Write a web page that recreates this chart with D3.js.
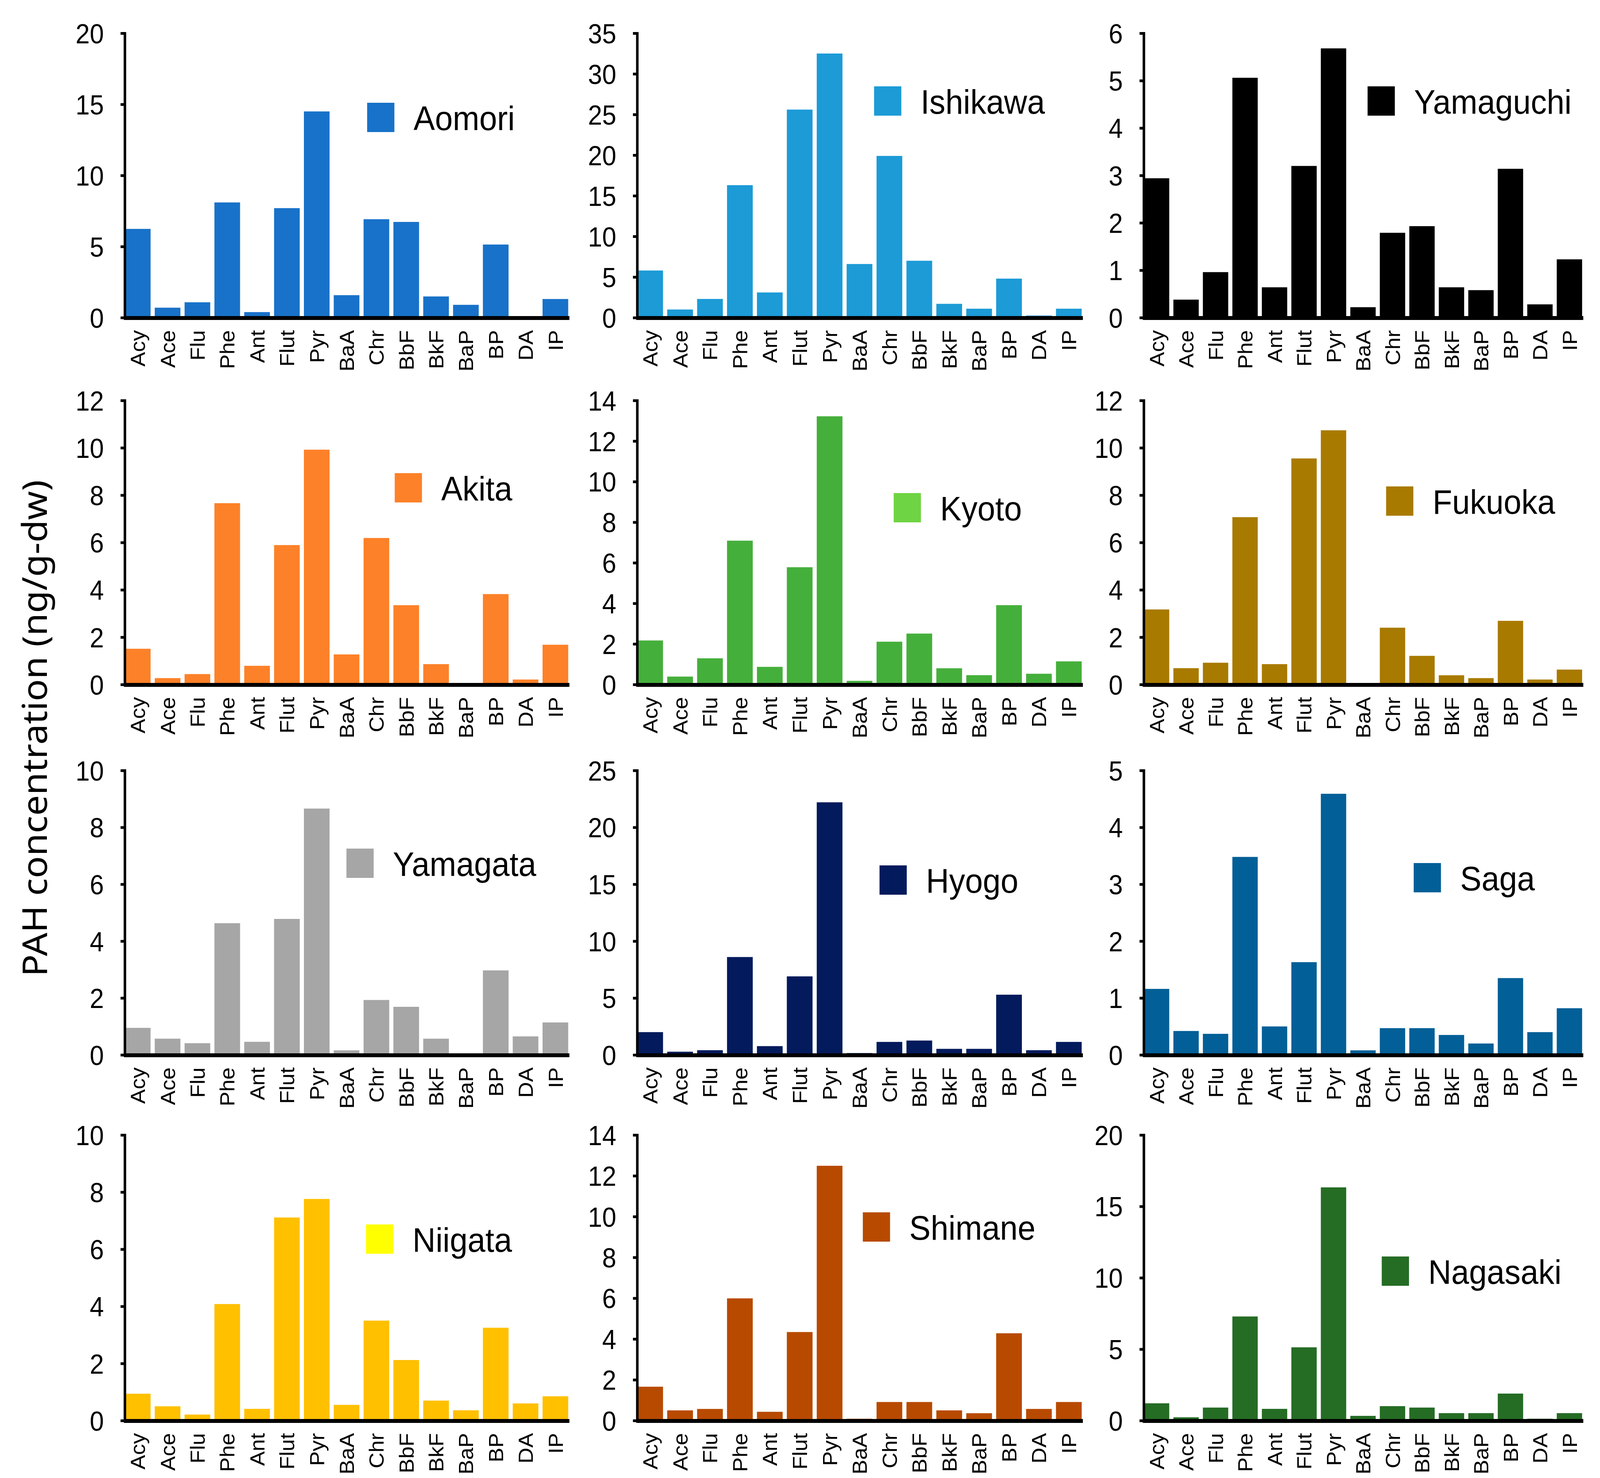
<!DOCTYPE html>
<html>
<head>
<meta charset="UTF-8">
<title>PAH concentration by prefecture</title>
<style>
  html, body { margin: 0; padding: 0; background: #fff; overflow: hidden; }
  svg { display: block; width: 100vw; height: 100vh; }
</style>
</head>
<body>
<svg></svg>
<script src="https://d3js.org/d3.v7.min.js"></script>
<script>
let width = 4406, height = 3783;

// drawing space is 4406 x 3783 and is stretched to fill the window
let svg = d3.select("svg")
    .attr("viewBox", "0 0 " + width + " " + height)
    .attr("preserveAspectRatio", "none")
    .style("background", "#fff");

// PAH compounds on every x axis
const compounds = ["Acy", "Ace", "Flu", "Phe", "Ant", "Flut", "Pyr", "BaA", "Chr", "BbF", "BkF", "BaP", "BP", "DA", "IP"];

const prefectures = ["Aomori", "Ishikawa", "Yamaguchi", "Akita", "Kyoto", "Fukuoka",
                     "Yamagata", "Hyogo", "Saga", "Niigata", "Shimane", "Nagasaki"];

// concentrations (ng/g-dw)
const aomori    = [6.24, 0.70, 1.08, 8.10, 0.39, 7.70, 14.5, 1.58, 6.92, 6.73, 1.49, 0.90, 5.14, 0.11, 1.31];
const ishikawa  = [5.80, 1.00, 2.30, 16.3, 3.10, 25.6, 32.5, 6.60, 19.9, 7.00, 1.70, 1.10, 4.80, 0.26, 1.10];
const yamaguchi = [2.94, 0.38, 0.96, 5.06, 0.64, 3.20, 5.68, 0.22, 1.79, 1.93, 0.64, 0.58, 3.14, 0.28, 1.23];
const akita     = [1.51, 0.27, 0.44, 7.66, 0.79, 5.89, 9.92, 1.27, 6.19, 3.35, 0.86, 0.00, 3.82, 0.21, 1.68];
const kyoto     = [2.17, 0.39, 1.29, 7.09, 0.87, 5.78, 13.22, 0.18, 2.11, 2.51, 0.80, 0.46, 3.91, 0.53, 1.14];
const fukuoka   = [3.17, 0.69, 0.92, 7.07, 0.86, 9.55, 10.74, 0.00, 2.40, 1.21, 0.39, 0.27, 2.69, 0.21, 0.63];
const yamagata  = [0.95, 0.57, 0.41, 4.63, 0.46, 4.78, 8.66, 0.16, 1.93, 1.69, 0.57, 0.00, 2.97, 0.65, 1.14];
const hyogo     = [2.00, 0.28, 0.41, 8.60, 0.77, 6.90, 22.2, 0.16, 1.14, 1.26, 0.53, 0.53, 5.29, 0.41, 1.14];
const saga      = [1.16, 0.42, 0.37, 3.48, 0.50, 1.63, 4.59, 0.08, 0.47, 0.47, 0.35, 0.20, 1.35, 0.40, 0.82];
const niigata   = [0.94, 0.50, 0.21, 4.08, 0.41, 7.11, 7.76, 0.55, 3.50, 2.12, 0.70, 0.36, 3.25, 0.60, 0.85];
const shimane   = [1.66, 0.50, 0.57, 5.99, 0.43, 4.34, 12.49, 0.09, 0.91, 0.91, 0.50, 0.36, 4.28, 0.57, 0.91];
const nagasaki  = [1.21, 0.23, 0.91, 7.29, 0.82, 5.13, 16.33, 0.33, 1.01, 0.91, 0.52, 0.52, 1.89, 0.13, 0.52];

// y axis range and tick step of each panel
const yMax  = [20, 35, 6, 12, 14, 12, 10, 25, 5, 10, 14, 20];
const yStep = [5, 5, 1, 2, 2, 2, 2, 5, 1, 2, 2, 5];

const barColors    = ["#1872C9", "#1C9BD7", "#000000", "#FD8128", "#45AF3B", "#A97A00",
                      "#A6A6A6", "#031A5C", "#035F97", "#FFC000", "#B84A00", "#256C24"];
const swatchColors = ["#1872C9", "#1C9BD7", "#000000", "#FD8128", "#6FD443", "#A97A00",
                      "#A6A6A6", "#031A5C", "#035F97", "#FFFF00", "#B84A00", "#256C24"];

const series = [aomori, ishikawa, yamaguchi, akita, kyoto, fukuoka,
                yamagata, hyogo, saga, niigata, shimane, nagasaki];

// panel layout
const colX   = [344, 1755, 3150];
const colEnd = [1568, 2982, 4360];
const rowTop  = [85, 1025, 1972, 2905];
const rowZero = [813, 1752, 2700, 3636];

// legend offset from the top of each y axis
const legendAt = [[667, 178], [652, 136], [616, 136],
                  [743, 186], [706, 237], [667, 220],
                  [610, 200], [667, 243], [743, 237],
                  [664, 229], [621, 198], [655, 311]];

const font = "'Liberation Sans', Arial, sans-serif";

series.forEach((vals, i) => {
    let col = i % 3, row = Math.floor(i / 3);
    let x0 = colX[col], x1 = colEnd[col];
    let yTop = rowTop[row], yZero = rowZero[row];

    let x = d3.scaleBand()
        .domain(compounds)
        .range([x0, x1])
        .paddingInner(0.14)
        .paddingOuter(0.02)
        .align(0);

    let y = d3.scaleLinear()
        .domain([0, yMax[i]])
        .range([yZero, yTop]);

    let g = svg.append("g").attr("class", "panel");

    // bars
    g.append("g")
        .selectAll("rect")
        .data(vals)
        .enter()
        .append("rect")
        .attr("x", (d, j) => x(compounds[j]))
        .attr("y", d => y(d))
        .attr("width", x.bandwidth())
        .attr("height", d => y(0) - y(d))
        .attr("fill", barColors[i]);

    // y axis
    let yAxis = d3.axisLeft(y)
        .tickValues(d3.range(0, yMax[i] + yStep[i] / 2, yStep[i]))
        .tickFormat(d3.format("d"))
        .tickSize(12)
        .tickSizeOuter(0)
        .tickPadding(46);

    let ya = g.append("g")
        .attr("transform", "translate(" + x0 + ",0)")
        .call(yAxis);
    ya.select(".domain").attr("stroke", "#000").attr("stroke-width", 7)
        .attr("d", "M0," + (yTop - 3) + "V" + yZero);
    ya.selectAll(".tick line").attr("stroke", "#000").attr("stroke-width", 7);
    ya.selectAll(".tick text")
        .style("font-family", font)
        .style("font-size", "70px")
        .attr("fill", "#000")
        .attr("dy", "0.36em");

    // x axis line
    g.append("line")
        .attr("x1", x0 - 3)
        .attr("x2", x1)
        .attr("y1", yZero + 1)
        .attr("y2", yZero + 1)
        .attr("stroke", "#000")
        .attr("stroke-width", 10);

    // category labels, rotated
    g.append("g")
        .selectAll("text")
        .data(compounds)
        .enter()
        .append("text")
        .attr("transform", d => "translate(" + (x(d) + x.bandwidth() / 2) + "," + (yZero + 32) + ") rotate(-90)")
        .attr("text-anchor", "end")
        .attr("dy", "0.36em")
        .style("font-family", font)
        .style("font-size", "56px")
        .attr("fill", "#000")
        .text(d => d);

    // legend
    let lg = g.append("g")
        .attr("transform", "translate(" + (x0 + legendAt[i][0]) + "," + (yTop + legendAt[i][1]) + ")");
    lg.append("rect")
        .attr("width", 75)
        .attr("height", 75)
        .attr("fill", swatchColors[i]);
    lg.append("text")
        .attr("x", 128)
        .attr("y", 38)
        .attr("dy", "0.36em")
        .style("font-family", font)
        .style("font-size", "88px")
        .attr("fill", "#000")
        .text(prefectures[i]);
});

// shared y axis title
svg.append("text")
    .attr("transform", "translate(95,1864) rotate(-90)")
    .attr("text-anchor", "middle")
    .attr("dy", "0.36em")
    .style("font-family", "'Noto Sans', sans-serif")
    .style("font-size", "94px")
    .attr("fill", "#000")
    .text("PAH concentration (ng/g-dw)");
</script>
</body>
</html>
